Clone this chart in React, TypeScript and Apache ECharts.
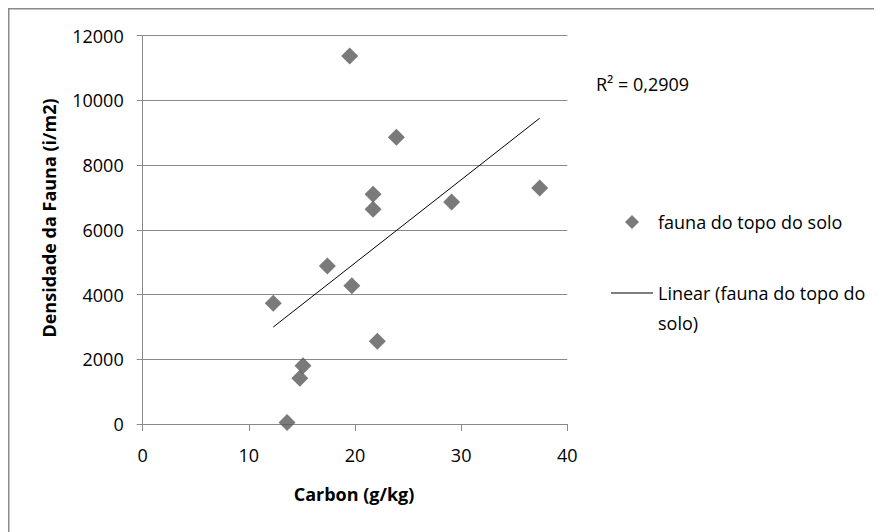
import React, { useEffect, useRef } from "react";
import * as echarts from "echarts";

const carbon = [19.5, 23.9, 21.7, 21.7, 29.1, 37.4, 17.4, 19.7, 12.3, 22.1, 15.1, 14.8, 13.6];
const fauna = [11370, 8860, 7100, 6640, 6860, 7290, 4880, 4270, 3730, 2560, 1800, 1410, 50];
const xTicks = [0, 10, 20, 30, 40];
const yTicks = [0, 2000, 4000, 6000, 8000, 10000, 12000];
const seriesName = "fauna do topo do solo";
const trendName = "Linear (fauna do topo do solo)";
const r2Label = "R² = 0,2909";

const FONT = "Open Sans";

function regression(xs: number[], ys: number[]) {
  const n = xs.length;
  const mx = xs.reduce((a, b) => a + b, 0) / n;
  const my = ys.reduce((a, b) => a + b, 0) / n;
  let sxy = 0;
  let sxx = 0;
  for (let i = 0; i < n; i++) {
    sxy += (xs[i] - mx) * (ys[i] - my);
    sxx += (xs[i] - mx) * (xs[i] - mx);
  }
  const b = sxy / sxx;
  const a = my - b * mx;
  return { a, b };
}

export default function App() {
  const ref = useRef<HTMLDivElement>(null);
  useEffect(() => {
    if (!ref.current) return;
    const chart = echarts.init(ref.current, null, { renderer: "svg" });
    const { a, b } = regression(carbon, fauna);
    const xmin = Math.min(...carbon);
    const xmax = Math.max(...carbon);
    const gray = "#8a8a8a";
    chart.setOption({
      animation: false,
      backgroundColor: "#fff",
      textStyle: { fontFamily: FONT },
      grid: { left: 134.7, right: 314.7, top: 27.7, bottom: 108, containLabel: false },
      xAxis: {
        type: "value",
        min: xTicks[0],
        max: xTicks[xTicks.length - 1],
        interval: 10,
        axisLine: { show: true, lineStyle: { color: gray, width: 1 } },
        axisTick: { show: true, length: 7, lineStyle: { color: gray } },
        splitLine: { show: false },
        axisLabel: { color: "#000", fontSize: 18, fontFamily: FONT, margin: 22, formatter: (v: number) => String(v) },
      },
      yAxis: {
        type: "value",
        min: yTicks[0],
        max: yTicks[yTicks.length - 1],
        interval: 2000,
        axisLine: { show: true, lineStyle: { color: gray, width: 1 } },
        axisTick: { show: true, length: 6, lineStyle: { color: gray } },
        splitLine: { show: true, lineStyle: { color: gray, width: 1 } },
        axisLabel: { color: "#000", fontSize: 18, fontFamily: FONT, margin: 19, formatter: (v: number) => String(v) },
      },
      legend: [
        {
          data: [{ name: seriesName, icon: "diamond" }],
          orient: "vertical",
          left: 617,
          top: 200,
          padding: 0,
          itemWidth: 14,
          itemHeight: 14,
          textStyle: { color: "#000", fontSize: 18, fontFamily: FONT, lineHeight: 28, padding: [0, 0, 0, 14] },
        },
        {
          data: [{ name: trendName, icon: "rect", itemStyle: { color: "#000" } }],
          orient: "vertical",
          left: 603,
          top: 240,
          padding: 0,
          itemWidth: 42,
          itemHeight: 1,
          formatter: () => " \nLinear (fauna do topo do\nsolo)",
          textStyle: { color: "#000", fontSize: 18, fontFamily: FONT, lineHeight: 30 },
        },
      ],
      graphic: [
        {
          type: "rect",
          shape: { x: 0.5, y: 0.5, width: 1200, height: 1200 },
          style: { fill: "none", stroke: "#8a8a8a", lineWidth: 2 },
          silent: true,
          z: 100,
        },
        {
          type: "text",
          x: 41,
          y: 210,
          rotation: Math.PI / 2,
          style: {
            text: "Densidade da Fauna (i/m2)",
            fontFamily: FONT,
            fontSize: 18,
            fontWeight: "bold",
            fill: "#000",
            align: "center",
            verticalAlign: "middle",
          },
        },
        {
          type: "text",
          x: 346,
          y: 486,
          style: {
            text: "Carbon (g/kg)",
            fontFamily: FONT,
            fontSize: 18,
            fontWeight: "bold",
            fill: "#000",
            align: "center",
            verticalAlign: "middle",
          },
        },
        {
          type: "text",
          x: 588,
          y: 76,
          style: {
            text: r2Label,
            fontFamily: FONT,
            fontSize: 18,
            fill: "#000",
            align: "left",
            verticalAlign: "middle",
          },
        },
      ],
      series: [
        {
          name: seriesName,
          type: "scatter",
          symbol: "diamond",
          symbolSize: 17,
          itemStyle: { color: "#595959" },
          data: carbon.map((x, i) => [x, fauna[i]]),
          z: 3,
        },
        {
          name: trendName,
          type: "line",
          symbol: "none",
          showSymbol: false,
          lineStyle: { color: "#000", width: 1 },
          itemStyle: { color: "#000" },
          data: [
            [xmin, a + b * xmin],
            [xmax, a + b * xmax],
          ],
          z: 4,
        },
      ],
    });
    return () => chart.dispose();
  }, []);
  return <div ref={ref} style={{ width: 874, height: 524 }} />;
}
